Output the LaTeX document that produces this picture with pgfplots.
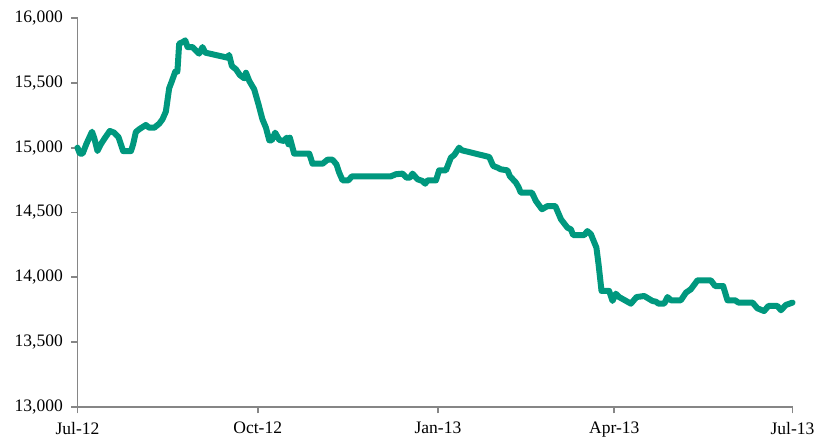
\documentclass[border=0pt]{standalone}
\usepackage{pgfplots}
\pgfplotsset{compat=1.18}
\usepackage{fontspec}
\setmainfont{Liberation Serif}
\definecolor{linegreen}{RGB}{0,152,126}
\definecolor{axisgrey}{RGB}{134,134,134}
\begin{document}
\fontsize{8.8}{10.5}\selectfont
\begin{tikzpicture}
\useasboundingbox (-38.75bp,-17bp) rectangle (374.75bp,203.5bp);
\begin{axis}[
  at={(0,0)}, anchor=south west,
  scale only axis,
  width=357.5bp, height=194.5bp,
  xmin=0, xmax=365,
  ymin=13000, ymax=16000,
  axis x line=bottom, axis y line=left,
  axis line style={-, draw=axisgrey, line width=0.9bp},
  xtick={0,92,184,274,365},
  xticklabels={Jul-12,Oct-12,Jan-13,Apr-13,Jul-13},
  ytick={13000,13500,14000,14500,15000,15500,16000},
  scaled y ticks=false,
  yticklabel={\pgfmathprintnumber[fixed,precision=0,1000 sep={,}]{\tick}},
  tick align=outside,
  major tick length=3.2bp,
  tick style={draw=axisgrey, line width=0.9bp},
  xtick pos=bottom, ytick pos=left,
  /pgf/number format/.cd, 1000 sep={,}, assume math mode=true,
  /pgfplots/.cd,
  ticklabel style={font=\fontsize{8.8}{10.5}\selectfont, text=black},
  x tick label style={yshift=-1.2bp},
  y tick label style={xshift=-1bp},
  clip=false,
]
\addplot[linegreen, line width=3bp, line join=round, line cap=round] coordinates {
(0,15000) (1.2,14954) (2.6,14954) (4.6,15031) (5.6,15064) (7.4,15123) (8.5,15077)
(10.2,14974) (11.9,15026) (14.1,15077) (16.5,15129) (18.7,15116) (20.9,15082)
(23.3,14974) (27.3,14974) (28.4,15026) (29.8,15121) (31.5,15142) (34.9,15175)
(36.6,15154) (39.2,15154) (41.7,15185) (43.4,15219) (45.1,15278) (46.8,15458)
(48.2,15514) (49.9,15586) (51.0,15586) (51.9,15802) (54.1,15817) (55.0,15828)
(56.2,15776) (58.7,15776) (62.1,15725) (63.8,15776) (65.2,15733) (76.6,15694)
(77.4,15715) (78.8,15630) (80.9,15604) (82.9,15560) (85.1,15535) (86.0,15578)
(87.7,15514) (90.2,15450) (92.4,15334) (94.4,15219) (96.2,15154) (97.9,15057)
(99.2,15057) (100.9,15116) (103.0,15060) (105.5,15051) (106.7,15077) (107.7,15026)
(108.4,15077) (110.6,14954) (118.3,14954) (120.0,14876) (125.1,14876) (127.6,14907)
(130.2,14907) (132.2,14871) (133.6,14807) (135.3,14748) (138.3,14748) (140.1,14779)
(160.0,14779) (162.5,14795) (165.9,14800) (167.9,14769) (169.7,14769) (171.0,14800)
(173.6,14756) (176.1,14743) (177.5,14722) (178.7,14748) (183.0,14748) (184.6,14825)
(188.1,14825) (190.6,14923) (192.3,14943) (194.8,15000) (196.2,14980) (210.2,14928)
(212.2,14859) (214.4,14846) (216.1,14833) (219.5,14825) (220.7,14781) (223.8,14730)
(225.1,14697) (226.3,14653) (232.0,14653) (234.0,14589) (237.1,14525) (240.0,14550)
(243.9,14550) (246.8,14448) (250.1,14383) (251.9,14370) (253.0,14326) (258.7,14326)
(260.3,14357) (262.1,14332) (264.9,14229) (266.0,14100) (267.5,13895) (271.4,13895)
(273.1,13818) (274.8,13874) (276.5,13848) (282.5,13797) (285.4,13848) (289.3,13856)
(293.5,13818) (295.3,13812) (296.6,13797) (299.5,13797) (301.2,13848) (302.9,13823)
(308.0,13823) (310.6,13882) (313.1,13908) (316.5,13977) (323.3,13977) (325.5,13933)
(329.6,13933) (331.8,13823) (335.7,13823) (337.4,13805) (344.6,13805) (347.1,13761)
(350.5,13740) (352.7,13779) (357.3,13779) (359.1,13746) (361.6,13787) (365.0,13805)
};
\end{axis}
\end{tikzpicture}
\end{document}
